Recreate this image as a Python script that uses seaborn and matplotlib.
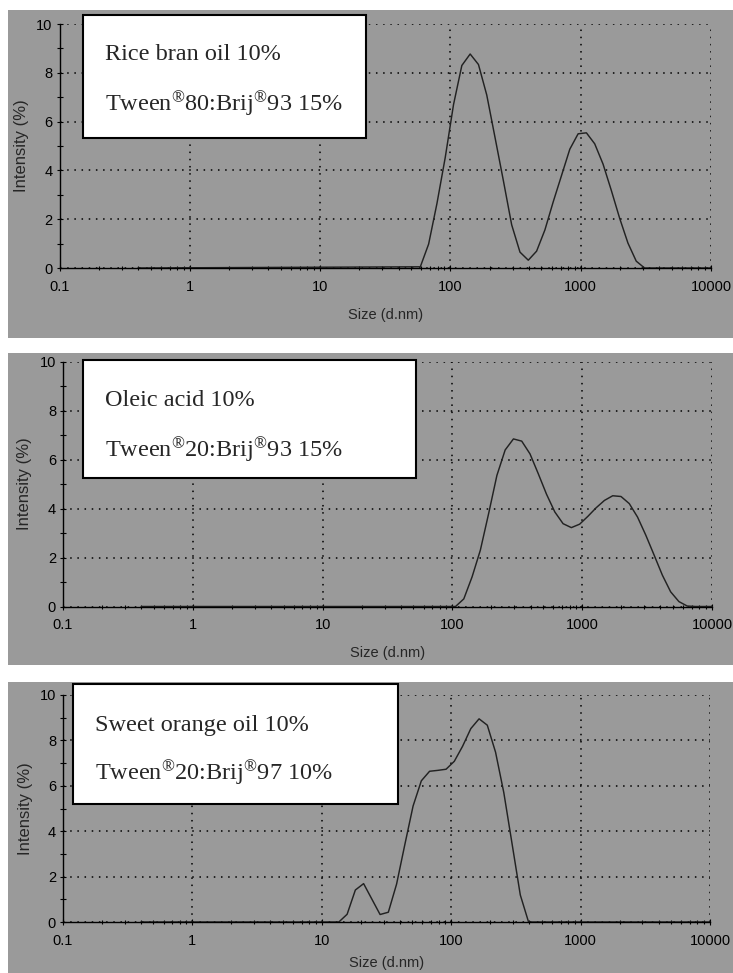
import matplotlib
matplotlib.use("Agg")
import numpy as np
import matplotlib.pyplot as plt
from matplotlib.patches import Rectangle
from matplotlib.ticker import LogLocator, MultipleLocator, NullFormatter
import seaborn as sns

# size distributions (intensity %)
sizes_rice = [0.4, 58.77, 68.06, 78.82, 91.28, 105.7, 122.4, 141.8, 164.2, 190.1,
              220.2, 255.0, 295.3, 342.0, 396.1, 458.7, 531.2, 615.1, 712.4, 825.0,
              955.4, 1106, 1281, 1484, 1718, 1990, 2305, 2669, 3091, 10000]
intensity_rice = [0, 0.05, 0.98, 2.64, 4.53, 6.7, 8.3, 8.77, 8.34, 7.09,
                  5.34, 3.58, 1.77, 0.65, 0.32, 0.69, 1.56, 2.71, 3.79, 4.87,
                  5.5, 5.54, 5.09, 4.26, 3.18, 2.04, 1.02, 0.28, 0, 0]

sizes_oleic = [0.4, 105.7, 122.4, 141.8, 164.2, 190.1, 220.2, 255.0, 295.3, 342.0,
               396.1, 458.7, 531.2, 615.1, 712.4, 825.0, 955.4, 1106, 1281, 1484,
               1718, 1990, 2305, 2669, 3091, 3580, 4145, 4801, 5560, 6439, 7456, 10000]
intensity_oleic = [0, 0, 0.31, 1.21, 2.3, 3.79, 5.35, 6.39, 6.84, 6.75,
                   6.23, 5.42, 4.58, 3.86, 3.38, 3.22, 3.36, 3.68, 4.03, 4.33,
                   4.52, 4.49, 4.2, 3.65, 2.91, 2.1, 1.28, 0.6, 0.2, 0.02, 0, 0]

sizes_orange = [0.4, 13.54, 15.69, 18.17, 21.04, 24.36, 28.21, 32.67, 37.84, 43.82,
                50.75, 58.77, 68.06, 78.82, 91.28, 105.7, 122.4, 141.8, 164.2, 190.1,
                220.2, 255.0, 295.3, 342.0, 396.1, 10000]
intensity_orange = [0, 0, 0.34, 1.41, 1.69, 1.01, 0.33, 0.43, 1.67, 3.41,
                    5.11, 6.22, 6.64, 6.68, 6.73, 7.08, 7.74, 8.52, 8.95, 8.67,
                    7.48, 5.7, 3.45, 1.19, 0, 0]

oil_labels = ["Rice bran oil 10%", "Oleic acid 10%", "Sweet orange oil 10%"]
surf_labels = [r"Tween$^{\mathrm{®}}$80:Brij$^{\mathrm{®}}$93 15%",
               r"Tween$^{\mathrm{®}}$20:Brij$^{\mathrm{®}}$93 15%",
               r"Tween$^{\mathrm{®}}$20:Brij$^{\mathrm{®}}$97 10%"]

xticks = [0.1, 1, 10, 100, 1000, 10000]
xtick_labels = ["0.1", "1", "10", "100", "1000", "10000"]
yticks = [0, 2, 4, 6, 8, 10]
ytick_labels = ["0", "2", "4", "6", "8", "10"]

series = [(sizes_rice, intensity_rice),
          (sizes_oleic, intensity_oleic),
          (sizes_orange, intensity_orange)]

# pixel layout: gray panel, axes box, legend box, text positions
layout = [
    dict(bg=(10, 338), ax=(59.5, 711, 24, 268), box=(83, 366, 15, 138),
         txt=(105, 60, 111), ylab=22, xlab=315),
    dict(bg=(353, 665), ax=(63, 712, 361.5, 606.5), box=(83, 416, 360, 478),
         txt=(105, 406, 457), ylab=24.5, xlab=653),
    dict(bg=(682, 973), ax=(63, 710, 695, 922), box=(73, 398, 684, 804),
         txt=(95, 731, 780), ylab=25.5, xlab=963),
]

sns.set_style("ticks")
plt.rcParams['font.family'] = ['Liberation Sans', 'DejaVu Sans']
plt.rcParams['mathtext.fontset'] = 'custom'
plt.rcParams['mathtext.rm'] = 'Liberation Serif'
plt.rcParams['mathtext.it'] = 'Liberation Serif:italic'

GRAY = "#9a9a9a"
W, H = 733, 973
fig = plt.figure(figsize=(W / 100, H / 100), dpi=100)


def fx(px):
    return px / W


def fy(py):
    return 1 - py / H


for (sizes, vals), lay, oil, surf in zip(series, layout, oil_labels, surf_labels):
    top, bot = lay["bg"]
    fig.add_artist(Rectangle((fx(8), fy(bot)), (W - 8) / W, (bot - top) / H,
                             transform=fig.transFigure, facecolor=GRAY,
                             edgecolor="none", zorder=-1))

    l, r, t, b = lay["ax"]
    ax = fig.add_axes([fx(l), fy(b), (r - l) / W, (b - t) / H])
    ax.set_facecolor(GRAY)

    sns.lineplot(x=sizes, y=vals, ax=ax, color="#222222", linewidth=1.05,
                 errorbar=None, clip_on=False)

    ax.set_xscale("log")
    ax.set_xlim(0.1, 10000)
    ax.set_ylim(0, 10)
    ax.set_xticks(xticks, labels=xtick_labels)
    ax.xaxis.set_minor_locator(LogLocator(base=10, subs=np.arange(2, 10), numticks=20))
    ax.xaxis.set_minor_formatter(NullFormatter())
    ax.set_yticks(yticks, labels=ytick_labels)
    ax.yaxis.set_minor_locator(MultipleLocator(1))

    ax.grid(True, which="major", color="black", linestyle=(0, (1, 3.7)), linewidth=1.1)
    for side in ("top", "right"):
        ax.spines[side].set_visible(False)
    for side in ("left", "bottom"):
        ax.spines[side].set_linewidth(1.0)
        ax.spines[side].set_color("black")

    ax.tick_params(which="both", direction="inout", width=0.8, color="black",
                   labelsize=10.5, labelcolor="black")
    ax.tick_params(axis="y", which="both", length=5, pad=2.5)
    ax.tick_params(axis="x", which="major", length=5, pad=6)
    ax.tick_params(axis="x", which="minor", length=3.5)
    ax.set_xlabel("")
    ax.set_ylabel("")

    fig.text(fx(lay["ylab"]), fy((t + b) / 2), "Intensity (%)", rotation=90,
             ha="center", va="center", fontsize=12)
    fig.text(fx((l + r) / 2), fy(lay["xlab"]), "Size (d.nm)",
             ha="center", va="center", fontsize=10.5)

    x0, x1, y0, y1 = lay["box"]
    fig.add_artist(Rectangle((fx(x0), fy(y1)), (x1 - x0) / W, (y1 - y0) / H,
                             transform=fig.transFigure, facecolor="white",
                             edgecolor="black", linewidth=1.5, zorder=5))
    tx, b1, b2 = lay["txt"]
    fig.text(fx(tx), fy(b1), oil, fontsize=17.5, family="Liberation Serif",
             va="baseline", zorder=6)
    fig.text(fx(tx), fy(b2), surf, fontsize=17.5, family="Liberation Serif",
             va="baseline", zorder=6)

fig.savefig("out.png", dpi=100, facecolor="white")
